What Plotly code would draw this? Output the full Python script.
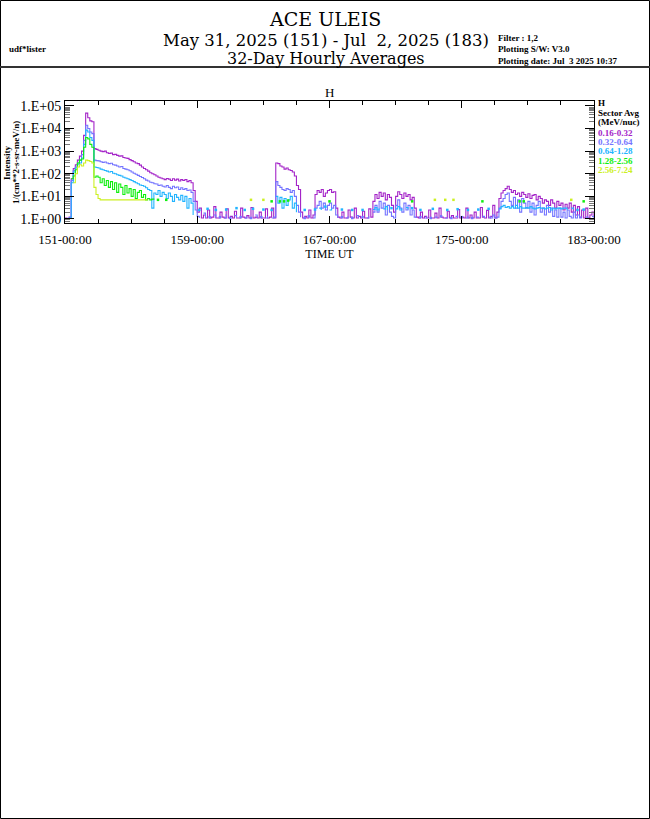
import plotly.graph_objects as go

N = None

# ---------------- data (3-hour samples, 8 per day) ----------------
start_day = 151
end_day = 183
samples_per_day = 8

channel_labels = ["0.16-0.32", "0.32-0.64", "0.64-1.28", "1.28-2.56", "2.56-7.24"]
channel_colors = ["#a424c8", "#7474ff", "#22b4ff", "#10ee10", "#ccf022"]

h_016_032 = [
    1.1, 1.0, 1.2, 60, 170, 250, 400, 600,                 # 151
    1000, 5000, 48000, 30000, 22000, 20000, 1300, 1200,    # 152
    1100, 1000, 950, 1000, 850, 800, 820, 700,             # 153
    720, 650, 600, 620, 520, 500, 480, 420,                # 154
    380, 340, 300, 280, 240, 200, 170, 150,                # 155
    130, 110, 100, 90, 80, 70, 65, 60,                     # 156
    55, 62, 58, 50, 60, 52, 58, 48,                        # 157
    55, 50, 56, 45, 50, 40, 18, 6,                         # 158
    2.0, 3.0, 1.1, 1.5, 1.1, 2.5, 1.1, 1.2,                # 159
    3.5, 1.1, 1.1, 2.0, 1.2, 1.1, 2.8, 1.1,                # 160
    1.3, 1.1, 2.2, 1.1, 1.1, 3.0, 1.2, 1.1,                # 161
    1.4, 1.1, 3.2, 1.1, 1.2, 1.1, 2.0, 1.1,                # 162
    1.1, 2.8, 1.1, 1.2, 3.0, 1.1, 300, 280,                # 163
    220, 200, 160, 180, 150, 140, 120, 80,                 # 164
    30, 20, 2.0, 1.1, 1.3, 1.1, 2.5, 1.1,                  # 165
    1.5, 12, 18, 15, 20, 10, 14, 18,                       # 166
    20, 15, 16, 3, 1.2, 1.1, 2.0, 1.1,                     # 167
    1.1, 2.5, 1.2, 1.1, 3.0, 1.1, 1.3, 1.1,                # 168
    2.2, 1.1, 1.1, 2.8, 1.2, 6, 12, 8,                     # 169
    15, 10, 14, 7, 12, 9, 4, 2,                            # 170
    10, 16, 12, 8, 14, 10, 12, 7,                          # 171
    9, 3, 1.2, 1.1, 2.0, 1.1, 1.3, 1.1,                    # 172
    2.5, 1.1, 1.1, 1.8, 1.1, 3.0, 1.2, 1.1,                # 173
    1.1, 2.2, 1.1, 1.4, 1.1, 1.1, 2.6, 1.1,                # 174
    1.2, 1.1, 3.0, 1.1, 1.5, 1.1, 2.0, 1.1,                # 175
    1.1, 3.2, 1.2, 1.1, 2.4, 1.1, 1.3, 4.0,                # 176
    1.1, 2.0, 8, 14, 18, 22, 28, 20,                       # 177
    15, 18, 12, 14, 10, 15, 12, 9,                         # 178
    13, 8, 11, 12, 7, 10, 8, 5,                            # 179
    7, 6, 4, 7, 5, 3, 6, 4,                                # 180
    5, 2.5, 4.5, 3, 5, 2, 4, 1.5,                          # 181
    3.5, 1.2, 2.5, 1.1, 3.0, 1.1, 1.5, 2.0,                # 182
    1.2]

h_032_064 = [
    1.0, 1.0, 1.1, 50, 140, 200, 300, 400,                 # 151
    700, 3000, 14000, 10000, 7000, 6000, 400, 380,         # 152
    370, 340, 320, 330, 300, 280, 290, 250,                # 153
    240, 220, 200, 210, 170, 160, 150, 135,                # 154
    120, 105, 95, 85, 75, 68, 60, 52,                      # 155
    48, 42, 40, 36, 35, 30, 32, 28,                        # 156
    26, 30, 25, 22, 28, 24, 26, 20,                        # 157
    24, 20, 22, 18, 19, 15, 6, 2.5,                        # 158
    1.3, 1.1, N, 1.8, 1.1, N, 1.2, N,                      # 159
    1.5, 1.1, N, 1.2, N, 1.1, 1.6, N,                      # 160
    1.1, N, 1.4, 1.1, N, 1.2, N, 1.1,                      # 161
    1.3, N, 1.1, N, 1.5, 1.1, N, 1.2,                      # 162
    N, 1.1, 1.3, N, 1.1, 1.2, 45, 30,                      # 163
    25, 20, 18, 22, 20, 15, 18, 10,                        # 164
    4, 2, 1.2, N, 1.1, N, 1.3, N,                          # 165
    1.1, 3, 4, 6, 3, 5, 2.5, 4,                            # 166
    5, 3, 4, 1.5, 1.1, N, 1.2, N,                          # 167
    1.1, 1.3, N, 1.1, N, 1.4, 1.1, N,                      # 168
    1.2, N, 1.1, 1.3, N, 2, 4, 2,                          # 169
    6, 3, 5, 1.5, 4, 2, 1.3, 1.1,                          # 170
    4, 7, 3, 2, 5, 2.5, 4, 1.5,                            # 171
    2.5, 1.2, 1.1, N, 1.2, N, 1.1, 1.3,                    # 172
    N, 1.1, N, 1.2, 1.1, N, 1.3, N,                        # 173
    1.1, 1.2, N, 1.1, N, 1.3, 1.1, N,                      # 174
    1.2, N, 1.1, 1.4, N, 1.1, N, 1.2,                      # 175
    1.1, N, 1.3, 1.1, N, 1.2, 1.1, 1.5,                    # 176
    1.1, 1.2, 3, 6, 8, 12, 14, 6,                          # 177
    4, 9, 3, 7, 2, 8, 5, 3,                                # 178
    6, 2, 5, 1.5, 4, 6, 2, 3,                              # 179
    1.5, 4, 2, 3, 1.3, 2.5, 1.2, 3,                        # 180
    1.2, 2, 1.1, 2.5, 1.3, 1.1, 2, 1.1,                    # 181
    1.5, 1.1, 1.3, N, 1.2, 1.1, N, 1.3,                    # 182
    1.1]

h_064_128 = [
    1.0, 1.0, 1.1, 40, 120, 180, 250, 300,                 # 151
    500, 2000, 8500, 7000, 4000, 3000, 200, 190,           # 152
    180, 160, 150, 140, 130, 120, 125, 105,                # 153
    100, 90, 85, 80, 70, 65, 60, 55,                       # 154
    50, 45, 40, 36, 32, 30, 28, 24,                        # 155
    20, 18, 3, 14, 12, 18, 10, 15,                         # 156
    12, 8, 14, 10, 6, 12, 9, 7,                            # 157
    11, 6, 10, 3, 8, 5, 1.5, N,                            # 158
    N, 2.5, N, N, N, 2.8, N, N,                            # 159
    N, 2.5, N, N, N, N, 2.6, N,                            # 160
    N, N, N, 3, N, N, N, 2.5,                              # 161
    N, N, N, 2.8, N, N, N, N,                              # 162
    2.6, N, N, N, 2.5, N, 10, 5,                           # 163
    9, 3, 8, 4, 7, 10, 3, 5,                               # 164
    2, N, N, N, 2.5, N, N, N,                              # 165
    N, 2.6, N, 3, 2.5, N, 3.5, N,                          # 166
    2.5, 3, N, N, N, N, 2.6, N,                            # 167
    N, N, N, 2.5, N, N, N, N,                              # 168
    2.5, N, N, N, N, 2.6, 3.2, 2.5,                        # 169
    3, N, 2.8, 3.5, 2.5, N, 3, N,                          # 170
    2.8, 3.5, 2.5, 3, N, 3.2, 2.6, N,                      # 171
    3, N, N, N, 2.5, N, N, N,                              # 172
    N, N, 2.8, N, N, N, N, N,                              # 173
    N, 2.5, N, N, N, N, 2.7, N,                            # 174
    N, N, N, 2.5, N, N, N, N,                              # 175
    2.6, N, N, N, N, 2.8, N, N,                            # 176
    N, N, 2.8, 3.5, 4, 3.2, 3.5, 3,                        # 177
    3.5, 3, 4, 3, 3.5, 3, 3, 3.2,                          # 178
    3, 3.5, 3, 2.8, 3, 3.2, 3, 3,                          # 179
    2.8, 3, 3.2, 2.5, 3, 2.8, 3, 3,                        # 180
    2.8, 3, 3, 2.5, N, 3, 2.6, N,                          # 181
    2.5, N, N, 2.6, N, N, N, N,                            # 182
    N]

h_128_256 = [
    N, N, N, 60, 80, 150, 300, 400,                        # 151
    450, 1500, 4000, 3500, 2000, 1500, 70, 80,             # 152
    70, 40, 60, 30, 50, 25, 45, 20,                        # 153
    40, 15, 35, 25, 12, 30, 14, 22,                        # 154
    10, 20, 8, 15, 18, 9, 12, 7,                           # 155
    8, 7, 7.5, 8, N, 7, N, N,                              # 156
    N, 7, N, N, N, N, N, N,                                # 157
    N, N, N, N, N, N, N, N,                                # 158
    N, N, N, N, N, N, N, N,                                # 159
    N, N, N, N, N, N, N, N,                                # 160
    N, N, N, N, N, N, N, N,                                # 161
    N, N, N, N, N, N, N, N,                                # 162
    N, N, N, N, 6, N, N, N,                                # 163
    6, N, 6, N, 6.5, N, N, N,                              # 164
    N, N, N, N, N, N, N, N,                                # 165
    N, N, N, N, N, N, N, N,                                # 166
    6, N, N, N, N, N, N, N,                                # 167
    N, N, N, N, N, N, N, N,                                # 168
    N, N, N, N, N, N, N, N,                                # 169
    N, N, N, N, N, N, N, N,                                # 170
    N, N, N, N, N, N, N, N,                                # 171
    6, N, N, N, N, N, N, N,                                # 172
    N, N, N, N, N, N, N, N,                                # 173
    N, N, N, N, N, N, N, N,                                # 174
    N, N, N, N, N, N, N, N,                                # 175
    N, N, 6, N, N, N, N, N,                                # 176
    N, N, N, N, N, N, N, N,                                # 177
    N, N, N, N, 6, N, 6, N,                                # 178
    N, N, N, N, N, N, N, N,                                # 179
    N, N, N, N, N, N, N, N,                                # 180
    N, N, N, N, N, N, N, N,                                # 181
    N, N, N, 6, N, N, N, N,                                # 182
    N]

h_256_724 = [
    N, N, N, N, 40, 100, 200, 250,                         # 151
    220, 300, 400, 380, 350, 300, 25, 12,                  # 152
    8, 7, 7, 7, 7, 7, 7, 7,                                # 153
    7, 7, 7, 7, 7, 7, 7, 7,                                # 154
    7, 7, 7, 7, 7, 7, 7, 7,                                # 155
    7, N, N, N, N, N, N, N,                                # 156
    N, N, N, N, N, N, N, N,                                # 157
    N, N, N, N, N, N, N, N,                                # 158
    N, N, N, N, N, N, N, N,                                # 159
    N, N, N, N, N, N, N, N,                                # 160
    N, N, N, N, N, N, N, N,                                # 161
    N, N, 7, N, N, N, N, N,                                # 162
    7, N, N, N, N, N, N, N,                                # 163
    N, N, N, N, N, N, N, N,                                # 164
    N, N, N, N, N, N, N, N,                                # 165
    N, N, N, N, N, N, N, N,                                # 166
    N, N, N, N, N, N, N, N,                                # 167
    N, N, N, N, N, N, N, N,                                # 168
    N, N, N, N, N, N, N, N,                                # 169
    N, N, N, N, N, N, N, N,                                # 170
    N, N, N, N, N, N, N, N,                                # 171
    N, N, N, N, N, N, N, N,                                # 172
    N, N, N, 7, N, N, N, N,                                # 173
    7, N, N, N, 7, N, N, N,                                # 174
    N, N, N, N, N, N, N, N,                                # 175
    N, N, N, N, N, N, N, N,                                # 176
    N, N, N, N, N, N, N, N,                                # 177
    N, N, N, N, N, N, N, N,                                # 178
    N, N, N, N, N, N, N, N,                                # 179
    N, N, N, N, N, N, N, N,                                # 180
    N, N, N, N, N, 7, N, N,                                # 181
    N, N, N, N, N, N, N, N,                                # 182
    N]

series = [h_016_032, h_032_064, h_064_128, h_128_256, h_256_724]

x_tick_days = [151, 159, 167, 175, 183]
x_tick_text = ["151-00:00", "159-00:00", "167-00:00", "175-00:00", "183-00:00"]
y_tick_vals = [1, 10, 100, 1000, 10000, 100000]
y_tick_text = ["1.E+00", "1.E+01", "1.E+02", "1.E+03", "1.E+04", "1.E+05"]

# ---------------- figure ----------------
W, H = 650, 819
L, R, T, B = 65, 56, 101, 596
PW = W - L - R
PH = H - T - B


def xp(px):
    return (px - L) / PW


def yp(py):
    return (H - B - py) / PH


SERIF = "Liberation Serif, Times New Roman, DejaVu Serif, serif"
WIDE_SERIF = "DejaVu Serif, Liberation Serif, serif"

days = [start_day + k / samples_per_day for k in range(len(h_016_032))]

fig = go.Figure()
for vals, col in zip(series, channel_colors):
    fig.add_trace(go.Scatter(
        x=days, y=vals, mode="lines",
        line=dict(color=col, width=1.1, shape="hv"),
        connectgaps=False, showlegend=False, hoverinfo="skip"))
    # isolated samples (no neighbour on either side) are drawn as dots
    iso_x, iso_y = [], []
    for k, v in enumerate(vals):
        if v is None:
            continue
        prev_v = vals[k - 1] if k > 0 else None
        next_v = vals[k + 1] if k + 1 < len(vals) else None
        if prev_v is None and next_v is None:
            iso_x.append(days[k])
            iso_y.append(v)
    if iso_x:
        fig.add_trace(go.Scatter(
            x=iso_x, y=iso_y, mode="markers",
            marker=dict(color=col, size=2.5, symbol="square"),
            showlegend=False, hoverinfo="skip"))

minor_y = [m * 10 ** e for e in range(-1, 5) for m in range(2, 10)]

fig.update_layout(
    width=W, height=H,
    margin=dict(l=L, r=R, t=T, b=B, pad=0, autoexpand=False),
    paper_bgcolor="white", plot_bgcolor="white",
    showlegend=False,
    font=dict(family=SERIF, color="black"),
    xaxis=dict(
        range=[start_day, end_day], automargin=False,
        tickmode="array", tickvals=x_tick_days, ticktext=x_tick_text,
        ticks="inside", ticklen=7, tickcolor="black", tickwidth=1,
        ticklabelstandoff=4,
        showline=True, linecolor="black", linewidth=1, mirror="allticks",
        showgrid=False, zeroline=False,
        tickfont=dict(family=SERIF, size=13, color="black"),
        minor=dict(dtick=2, tick0=151, ticks="inside", ticklen=4,
                   tickcolor="black", showgrid=False),
        title=dict(text="TIME UT", font=dict(family=SERIF, size=12), standoff=2),
    ),
    yaxis=dict(
        type="log", range=[-0.18, 5.22], automargin=False,
        tickmode="array", tickvals=y_tick_vals, ticktext=y_tick_text,
        ticks="inside", ticklen=9, tickcolor="black", tickwidth=1,
        showline=True, linecolor="black", linewidth=1, mirror="allticks",
        showgrid=False, zeroline=False,
        tickfont=dict(family=SERIF, size=14, color="black"),
        minor=dict(tickmode="array", tickvals=minor_y, ticks="inside",
                   ticklen=5, tickcolor="#777777", showgrid=False),
    ),
)

ann = []


def text(px, py, s, size, xanchor="left", color="black", angle=0, family=SERIF):
    ann.append(dict(x=xp(px), y=yp(py), xref="paper", yref="paper", text=s,
                    showarrow=False, xanchor=xanchor, yanchor="middle",
                    textangle=angle, borderpad=0,
                    font=dict(family=family, size=size, color=color)))


text(325, 19, "ACE ULEIS", 19, "center", family=WIDE_SERIF)
text(326, 40, "May 31, 2025 (151) - Jul \u00a02, 2025 (183)", 16.5, "center",
     family=WIDE_SERIF)
text(326, 58.8, "32-Day Hourly Averages", 16, "center", family=WIDE_SERIF)
text(8, 49, "<b>udf*lister</b>", 9)
text(497, 38, "<b>Filter : 1,2</b>", 9)
text(497, 49, "<b>Plotting S/W: V3.0</b>", 9)
text(497, 61, "<b>Plotting date: Jul \u00a03 2025 10:37</b>", 9)
text(329, 92, "H", 13, "center")

text(7, 163, "<b>Intensity</b>", 9, "center", angle=-90)
text(16, 163, "<b>1/(cm**2-s-sr-meV/n)</b>", 9, "center", angle=-90)

legend_y0 = 103
text(597, legend_y0, "<b>H</b>", 9)
text(597, legend_y0 + 9.6, "<b>Sector Avg</b>", 9)
text(597, legend_y0 + 19.2, "<b>(MeV/nuc)</b>", 9)
for k, (lab, col) in enumerate(zip(channel_labels, channel_colors)):
    text(597, legend_y0 + 29.5 + 9.4 * k, "<b>" + lab + "</b>", 9, color=col)

fig.update_layout(annotations=ann)

fig.update_layout(shapes=[
    dict(type="rect", xref="paper", yref="paper",
         x0=xp(0.5), x1=xp(649.5), y0=yp(818.5), y1=yp(0.5),
         line=dict(color="black", width=1)),
    dict(type="line", xref="paper", yref="paper",
         x0=xp(0), x1=xp(650), y0=yp(67), y1=yp(67),
         line=dict(color="#333333", width=2)),
])

fig.write_html(
    "out.html",
    config={"displayModeBar": False},
    post_script="document.body.style.margin='0px';"
                "document.body.style.overflow='hidden';",
)
